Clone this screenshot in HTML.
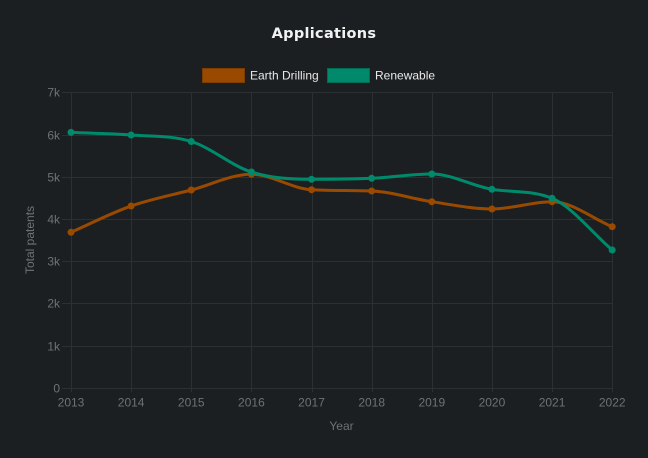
<!DOCTYPE html>
<html>
<head>
<meta charset="utf-8">
<style>
html,body{margin:0;padding:0;background:#1b1f22;}
body{width:648px;height:458px;overflow:hidden;}
svg{display:block;}
text{font-family:"Liberation Sans",sans-serif;}
</style>
</head>
<body>
<svg id="c" width="648" height="458" viewBox="0 0 648 458" xmlns="http://www.w3.org/2000/svg">
<rect width="648" height="458" fill="#1b1f22"/>
<text x="324" y="38" text-anchor="middle" font-size="14.5" font-weight="bold" fill="#f2f2f2" style="font-family:'DejaVu Sans','Liberation Sans',sans-serif;letter-spacing:0.3px">Applications</text>
<!-- legend -->
<rect x="202.5" y="68.5" width="42" height="14" fill="#9a4a00" stroke="#7e3d00" stroke-width="1"/>
<text x="250" y="79.5" font-size="12" fill="#e8e8e8">Earth Drilling</text>
<rect x="327.5" y="68.5" width="42" height="14" fill="#008a6b" stroke="#006d55" stroke-width="1"/>
<text x="375" y="79.5" font-size="12" fill="#e8e8e8">Renewable</text>
<g id="grid" stroke="#2b3033" stroke-width="1"></g>
<g id="labels" font-size="12" fill="#6e7275"></g>
<text x="341.5" y="430" text-anchor="middle" font-size="12" fill="#6e7275">Year</text>
<text transform="translate(34 240) rotate(-90)" text-anchor="middle" font-size="12" fill="#6e7275">Total patents</text>
<path id="pE" fill="none" stroke="#9a4a00" stroke-width="3"/>
<path id="pR" fill="none" stroke="#008a6b" stroke-width="3"/>
<g id="pts"></g>
</svg>
<script>
(function(){
var NS="http://www.w3.org/2000/svg";
function el(t,a,p){var e=document.createElementNS(NS,t);for(var k in a)e.setAttribute(k,a[k]);p.appendChild(e);return e;}
var x0=71,x1=612.2,y0=387.7,y7=92.3;
var grid=document.getElementById('grid'),labels=document.getElementById('labels');
for(var i=0;i<=7;i++){
  var y=Math.round(y0-(y0-y7)*i/7)+0.5;
  el('line',{x1:62,x2:x1,y1:y,y2:y},grid);
  var t=el('text',{x:60,y:y+4,'text-anchor':'end'},labels);
  t.textContent=i==0?'0':i+'k';
}
var xs=[];
for(var i=0;i<10;i++){
  var x=x0+(x1-x0)*i/9; xs.push(x);
  var xr=Math.round(x)+0.5;
  el('line',{x1:xr,x2:xr,y1:y7,y2:392},grid);
  var t=el('text',{x:x,y:406.5,'text-anchor':'middle'},labels);
  t.textContent=String(2013+i);
}
var E=[232.3,206,190,174.3,189.7,191,201.7,209,201.7,226.7];
var R=[132.4,135,141.5,172,179.3,178.3,174,189.3,198.3,250];
function mono(ys){
  var n=ys.length,d=[],m=[];
  for(var i=0;i<n-1;i++)d.push((ys[i+1]-ys[i])/(xs[i+1]-xs[i]));
  for(var i=0;i<n;i++){
    if(i==0)m.push(d[0]);else if(i==n-1)m.push(d[n-2]);
    else if(d[i-1]==0||d[i]==0||(d[i-1]>0)!=(d[i]>0))m.push(0);
    else m.push((d[i-1]+d[i])/2);
  }
  for(var i=0;i<n-1;i++){
    if(d[i]==0){m[i]=m[i+1]=0;continue;}
    var a=m[i]/d[i],b=m[i+1]/d[i],s=a*a+b*b;
    if(s<=9)continue;
    var tau=3/Math.sqrt(s);m[i]=a*tau*d[i];m[i+1]=b*tau*d[i];
  }
  var p='M'+xs[0]+' '+ys[0];
  for(var i=0;i<n-1;i++){
    var dx=(xs[i+1]-xs[i])/3;
    p+=' C'+(xs[i]+dx)+' '+(ys[i]+m[i]*dx)+' '+(xs[i+1]-dx)+' '+(ys[i+1]-m[i+1]*dx)+' '+xs[i+1]+' '+ys[i+1];
  }
  return p;
}
document.getElementById('pE').setAttribute('d',mono(E));
document.getElementById('pR').setAttribute('d',mono(R));
var pts=document.getElementById('pts');
for(var i=0;i<10;i++){
  el('circle',{cx:xs[i],cy:E[i],r:3.5,fill:'#9a4a00'},pts);
}
for(var i=0;i<10;i++){
  el('circle',{cx:xs[i],cy:R[i],r:3.5,fill:'#008a6b'},pts);
}
})();
</script>
</body>
</html>
